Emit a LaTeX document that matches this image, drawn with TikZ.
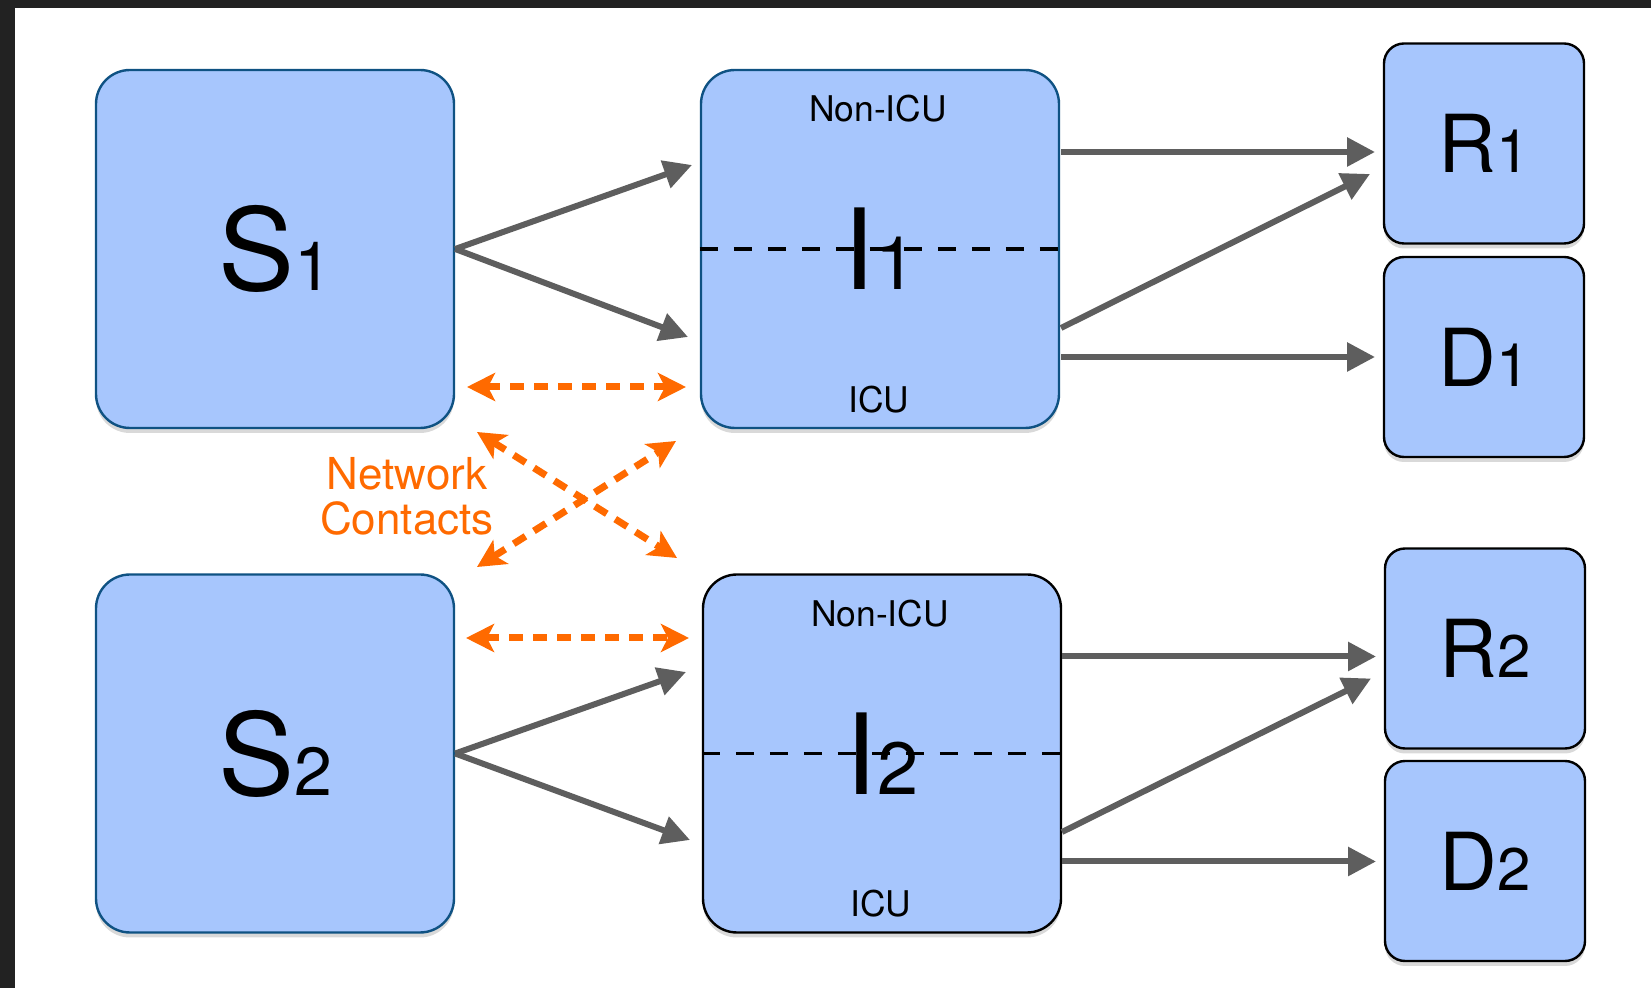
\documentclass[tikz,border=0pt]{standalone}
\usepackage{fontspec}
\setmainfont{TeX Gyre Heros}
\usepackage{xcolor}
\usepackage{tikz}
\usetikzlibrary{arrows.meta,shadows}

\definecolor{boxblue}{HTML}{A7C6FD}
\definecolor{edgeblue}{HTML}{0F5283}
\definecolor{flowgray}{HTML}{5E5E5E}
\definecolor{contactorange}{HTML}{FF6A00}
\definecolor{framedark}{HTML}{222222}

\newcommand{\statename}[4]{{\fontsize{#1}{#1}\selectfont #3}{\fontsize{#2}{#2}\selectfont #4}}

\tikzset{
  compartment/.style={draw=edgeblue,line width=1.2pt,fill=boxblue,rounded corners=17pt,
    minimum width=179pt,minimum height=179pt,inner sep=0pt,
    drop shadow={shadow xshift=0pt,shadow yshift=-2.5pt,opacity=0.3}},
  outcome/.style={compartment,draw=black,rounded corners=10pt,minimum width=100pt,minimum height=100pt},
  ward/.style={inner sep=0pt,font=\fontsize{17.7pt}{17.7pt}\selectfont},
  flow/.style={draw=flowgray,line width=3pt,-{Triangle[length=14pt,width=14pt]}},
  contact/.style={draw=contactorange,line width=3.5pt,dash pattern=on 7pt off 5pt,
    {Stealth[length=14pt,width=14pt,inset=3.5pt]}-{Stealth[length=14pt,width=14pt,inset=3.5pt]}},
  midline/.style={draw=black,line width=1.6pt,dash pattern=on 9pt off 8pt}
}

\begin{document}
\begin{tikzpicture}[x=0.5pt,y=-0.5pt]
  \useasboundingbox (0,0) rectangle (1651,988);
  \fill[framedark] (0,0) rectangle (1651,8);
  \fill[framedark] (0,0) rectangle (15,988);

  \node[compartment] (S1) at (275,249) {\statename{57pt}{34pt}{S}{1}};
  \node[compartment] (I1) at (880,249) {\statename{56pt}{37pt}{I}{1}};
  \node[compartment] (S2) at (275,753.5) {\statename{57pt}{34pt}{S}{2}};
  \node[compartment,draw=black] (I2) at (882,753.5) {\statename{56pt}{37pt}{I}{2}};
  \node[outcome] (R1) at (1484,143.5) {\statename{40pt}{30pt}{R}{1}};
  \node[outcome] (D1) at (1484,357) {\statename{40pt}{30pt}{D}{1}};
  \node[outcome] (R2) at (1485,648.5) {\statename{40pt}{30pt}{R}{2}};
  \node[outcome] (D2) at (1485,861) {\statename{40pt}{30pt}{D}{2}};

  \draw[midline] (I1.west) -- (I1.east);
  \draw[midline] (I2.west) -- (I2.east);
  \node[ward] (I1top) at (878,109) {Non-ICU};
  \node[ward] (I1bot) at (879,400) {ICU};
  \node[ward] (I2top) at (880,613.5) {Non-ICU};
  \node[ward] (I2bot) at (881,903.5) {ICU};

  \node[text=contactorange,align=center,inner sep=0pt,font=\fontsize{22pt}{22.5pt}\selectfont] (net) at (407,496.5) {Network\\Contacts};

  \coordinate (s1a) at (692,165);
  \coordinate (s1b) at (688,337);
  \coordinate (s2a) at (686,672);
  \coordinate (s2b) at (690,840);
  \draw[flow] (S1.east) -- (s1a);
  \draw[flow] (S1.east) -- (s1b);
  \draw[flow] (S2.east) -- (s2a);
  \draw[flow] (S2.east) -- (s2b);

  \coordinate (i1r) at (1061,152);   \coordinate (r1a) at (1375,152);
  \coordinate (i1x) at (1061,328);   \coordinate (r1b) at (1370,174);
  \coordinate (i1d) at (1061,357);   \coordinate (d1a) at (1375,357);
  \draw[flow] (i1r) -- (r1a);
  \draw[flow] (i1x) -- (r1b);
  \draw[flow] (i1d) -- (d1a);

  \coordinate (i2r) at (1062,656.5); \coordinate (r2a) at (1376,656.5);
  \coordinate (i2x) at (1062,832);   \coordinate (r2b) at (1371,678.5);
  \coordinate (i2d) at (1062,861.5); \coordinate (d2a) at (1376,861.5);
  \draw[flow] (i2r) -- (r2a);
  \draw[flow] (i2x) -- (r2b);
  \draw[flow] (i2d) -- (d2a);

  \coordinate (c1l) at (467,387);  \coordinate (c1r) at (686,387);
  \coordinate (cxa) at (477,432);  \coordinate (cxb) at (677,558);
  \coordinate (cya) at (477,567);  \coordinate (cyb) at (676,441);
  \coordinate (c2l) at (466,638);  \coordinate (c2r) at (689,638);
  \draw[contact] (c1l) -- (c1r);
  \draw[contact] (cxa) -- (cxb);
  \draw[contact] (cya) -- (cyb);
  \draw[contact] (c2l) -- (c2r);
\end{tikzpicture}
\end{document}
